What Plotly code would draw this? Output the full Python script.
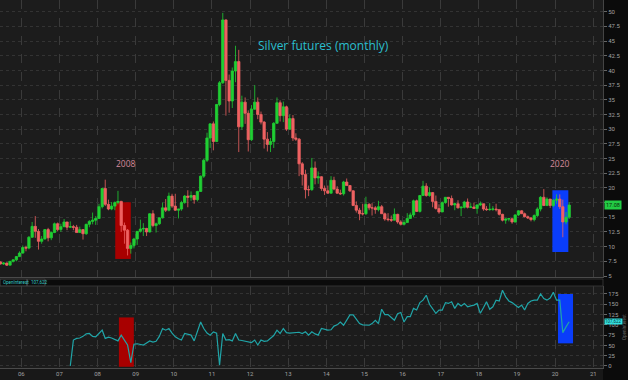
import plotly.graph_objects as go

# ---------------- data ----------------
# monthly bars, June 2005 .. May 2020 (bar centred mid-month)
MONTHS = []
for yr in range(2005, 2021):
    for mo in range(1, 13):
        if (yr == 2005 and mo < 6) or (yr == 2020 and mo > 5):
            continue
        MONTHS.append(f"{yr}-{mo:02d}-15")

OPEN = [
    7.40, 7.05, 7.20, 6.85, 7.50, 7.75, 8.30,
    8.90, 9.85, 9.75, 11.60, 13.45, 12.60, 10.90, 11.30, 12.90, 11.50, 12.40, 13.90,
    12.90, 13.40, 14.20, 13.30, 13.40, 13.30, 12.40, 12.90, 12.20, 13.80, 14.30, 14.50,
    14.80, 16.80, 19.90, 17.20, 16.40, 16.90, 17.50, 17.70, 13.60, 12.80, 9.70, 10.20,
    11.30, 12.60, 13.00, 13.10, 12.50, 15.60, 13.60, 13.90, 14.90, 16.60, 16.20, 18.60,
    16.90, 16.20, 16.40, 17.50, 18.60, 18.40, 18.70, 18.00, 19.40, 22.00, 24.70, 28.50,
    30.90, 27.90, 34.20, 37.90, 48.60, 38.30, 34.80, 39.90, 41.50, 30.40, 34.60, 32.70,
    28.20, 33.40, 34.60, 32.50, 31.20, 28.30, 27.40, 27.90, 31.00, 34.50, 32.30, 33.80,
    30.00, 31.80, 28.50, 28.30, 24.10, 22.30, 19.70, 19.70, 23.40, 21.70, 21.90, 19.90,
    19.50, 19.10, 21.30, 19.80, 19.10, 19.00, 21.00, 20.40, 19.50, 17.00, 16.20, 15.60,
    15.60, 17.20, 16.60, 16.60, 16.30, 16.80, 15.60, 14.70, 14.60, 14.50, 15.50, 14.20,
    13.80, 14.10, 14.80, 15.40, 17.80, 16.00, 18.70, 20.30, 18.70, 19.20, 17.70, 16.50,
    15.90, 17.50, 18.40, 18.20, 17.10, 17.30, 16.60, 16.70, 17.60, 16.70, 16.75, 16.50,
    17.10, 17.30, 16.40, 16.30, 16.35, 16.40, 16.30, 15.50, 14.50, 14.70, 14.75, 14.20,
    15.40, 16.10, 15.60, 15.10, 14.90, 14.60, 15.30, 16.40, 18.40, 17.00, 18.10, 17.00,
    17.90, 18.10, 16.80, 14.20, 15.00,
]
HIGH = [
    7.50, 7.35, 7.30, 7.55, 7.80, 8.40, 9.20,
    10.20, 10.15, 11.80, 14.20, 15.20, 13.00, 11.80, 13.00, 13.20, 12.60, 14.10, 14.10,
    13.90, 14.70, 14.20, 14.30, 13.70, 13.70, 13.40, 12.95, 13.90, 14.50, 15.80, 15.20,
    17.30, 20.00, 21.40, 18.00, 17.60, 17.70, 19.50, 17.80, 14.10, 13.00, 10.70, 11.50,
    12.60, 14.60, 14.00, 13.20, 15.70, 16.20, 14.10, 15.00, 17.50, 18.10, 19.20, 19.00,
    19.00, 16.40, 17.80, 18.80, 19.60, 19.40, 18.80, 19.50, 22.10, 25.00, 29.40, 31.00,
    31.30, 34.30, 38.20, 49.80, 48.70, 39.30, 40.50, 44.20, 43.50, 35.70, 35.40, 33.20,
    34.10, 37.50, 35.40, 33.00, 31.40, 29.50, 28.50, 31.20, 35.40, 34.90, 34.70, 34.00,
    32.50, 32.40, 29.30, 28.50, 24.40, 23.10, 20.40, 25.10, 24.50, 22.80, 22.00, 20.40,
    20.40, 22.00, 21.90, 20.30, 19.70, 21.20, 21.60, 20.50, 19.60, 17.70, 16.60, 17.30,
    18.50, 17.40, 17.40, 16.90, 17.80, 17.10, 15.80, 15.70, 15.30, 16.50, 15.60, 14.50,
    14.50, 15.70, 15.80, 18.00, 18.00, 18.80, 21.20, 20.80, 20.10, 19.30, 18.70, 17.20,
    17.70, 18.40, 18.40, 18.70, 17.50, 17.90, 16.90, 17.80, 18.20, 17.40, 17.50, 17.20,
    17.70, 17.30, 16.90, 17.40, 16.90, 17.30, 16.30, 15.60, 14.80, 14.90, 14.70, 15.50,
    16.20, 16.20, 15.80, 15.30, 14.90, 15.50, 16.70, 18.60, 19.80, 18.40, 18.10, 18.10,
    18.90, 18.90, 18.00, 15.90, 17.60,
]
LOW = [
    6.95, 6.90, 6.70, 6.80, 7.30, 7.50, 8.25,
    8.80, 9.20, 9.55, 11.50, 11.50, 9.50, 10.50, 11.20, 10.90, 11.10, 12.30, 12.60,
    12.50, 13.30, 12.80, 13.20, 12.80, 12.40, 12.40, 11.20, 12.00, 13.30, 13.80, 13.70,
    14.70, 16.50, 16.90, 16.20, 16.20, 16.20, 17.20, 12.50, 10.50, 8.50, 8.80, 9.70,
    10.30, 12.40, 11.80, 11.80, 12.40, 13.30, 12.40, 13.70, 14.80, 15.90, 16.00, 16.60,
    16.10, 14.80, 16.10, 17.30, 16.70, 17.80, 17.30, 17.70, 19.30, 21.70, 24.40, 26.80,
    26.40, 27.80, 33.90, 37.70, 32.30, 32.80, 33.60, 38.00, 26.10, 29.90, 30.90, 26.20,
    28.00, 33.30, 31.70, 30.80, 26.70, 26.20, 26.10, 26.80, 30.90, 31.30, 31.20, 29.70,
    29.90, 28.00, 28.00, 22.00, 20.40, 18.20, 18.60, 19.50, 20.60, 20.70, 19.50, 18.80,
    19.00, 19.00, 19.60, 19.00, 18.80, 18.70, 20.40, 19.30, 16.90, 15.80, 14.50, 15.30,
    15.40, 16.20, 15.30, 15.60, 16.00, 15.60, 14.40, 14.30, 14.20, 14.50, 13.90, 13.60,
    13.60, 14.10, 14.70, 15.00, 15.90, 15.80, 18.70, 18.50, 18.50, 16.70, 16.30, 15.60,
    15.90, 17.30, 16.80, 17.00, 16.20, 16.50, 15.20, 16.50, 16.50, 16.60, 16.60, 15.60,
    16.90, 16.10, 16.10, 16.10, 16.10, 16.00, 15.30, 14.30, 13.90, 14.30, 13.90, 14.10,
    15.20, 15.60, 15.00, 14.70, 14.30, 14.30, 15.00, 16.00, 16.90, 16.90, 16.60, 16.70,
    17.30, 16.40, 11.60, 13.80, 14.70,
]
CLOSE = [
    7.05, 7.20, 6.85, 7.50, 7.75, 8.30, 8.90,
    9.85, 9.75, 11.60, 13.45, 12.60, 10.90, 11.30, 12.90, 11.50, 12.40, 13.90, 12.90,
    13.40, 14.20, 13.30, 13.40, 13.30, 12.40, 12.90, 12.20, 13.80, 14.30, 14.50, 14.80,
    16.80, 19.90, 17.20, 16.40, 16.90, 17.50, 17.70, 13.60, 12.80, 9.70, 10.20, 11.30,
    12.60, 13.00, 13.10, 12.50, 15.60, 13.60, 13.90, 14.90, 16.60, 16.20, 18.60, 16.90,
    16.20, 16.40, 17.50, 18.60, 18.40, 18.70, 18.00, 19.40, 22.00, 24.70, 28.50, 30.90,
    27.90, 34.20, 37.90, 48.60, 38.30, 34.80, 39.90, 41.50, 30.40, 34.60, 32.70, 28.20,
    33.40, 34.60, 32.50, 31.20, 28.30, 27.40, 27.90, 31.00, 34.50, 32.30, 33.80, 30.00,
    31.80, 28.50, 28.30, 24.10, 22.30, 19.70, 19.70, 23.40, 21.70, 21.90, 19.90, 19.50,
    19.10, 21.30, 19.80, 19.10, 19.00, 21.00, 20.40, 19.50, 17.00, 16.20, 15.60, 15.60,
    17.20, 16.60, 16.60, 16.30, 16.80, 15.60, 14.70, 14.60, 14.50, 15.50, 14.20, 13.80,
    14.10, 14.80, 15.40, 17.80, 16.00, 18.70, 20.30, 18.70, 19.20, 17.70, 16.50, 15.90,
    17.50, 18.40, 18.20, 17.10, 17.30, 16.60, 16.70, 17.60, 16.70, 16.75, 16.50, 17.10,
    17.30, 16.40, 16.30, 16.35, 16.40, 16.30, 15.50, 14.50, 14.70, 14.75, 14.20, 15.40,
    16.10, 15.60, 15.10, 14.90, 14.60, 15.30, 16.40, 18.40, 17.00, 18.10, 17.00, 17.90,
    18.10, 16.80, 14.20, 15.00, 17.08,
]

# open interest (thousands), April 2007 .. May 2020
OI_MONTHS = MONTHS[22:]
OPEN_INTEREST = [
    0, 63, 67, 68, 72, 78, 79, 72, 71,
    80, 87, 67, 70, 68, 65, 61, 75, 62, 51, 8, 53,
    54, 52, 51, 56, 61, 58, 60, 72, 91, 87, 91, 80,
    71, 66, 63, 79, 77, 75, 61, 85, 107, 91, 80, 75,
    83, 80, 2, 79, 63, 64, 61, 79, 63, 62, 60, 59,
    57, 63, 51, 63, 60, 61, 67, 74, 87, 79, 91, 81,
    80, 81, 81, 82, 79, 83, 75, 83, 78, 75, 91, 89,
    87, 88, 97, 100, 107, 99, 110, 124, 124, 115, 103, 100,
    99, 99, 103, 111, 103, 138, 125, 125, 118, 111, 127, 130,
    107, 120, 120, 140, 136, 154, 160, 172, 150, 140, 128, 136,
    136, 154, 152, 156, 140, 152, 146, 152, 144, 146, 148, 152,
    128, 142, 156, 138, 144, 160, 158, 184, 168, 158, 154, 148,
    142, 148, 136, 152, 158, 160, 160, 175, 164, 160, 165, 179,
    160, 160, 81, 95, 107.622,
]

PRICE_TICKS = [5, 7.5, 10, 12.5, 15, 17.5, 20, 22.5, 25, 27.5, 30, 32.5, 35, 37.5, 40, 42.5, 45, 47.5, 50]
# the 17.5 label sits under the last-price tag in the reference
PRICE_LABELS = ["5", "7.5", "10", "12.5", "15", "", "20", "22.5", "25", "27.5", "30",
                "32.5", "35", "37.5", "40", "42.5", "45", "47.5", "50"]
OI_TICKS = [0, 25, 50, 75, 100, 125, 150, 175]
OI_LABELS = ["0", "25", "50", "75", "100", "125", "150", "175"]

TITLE = "Silver futures (monthly)"
LAST_PRICE = "17.08"
LAST_OI = "107,622"

# ---------------- styling ----------------
UP = "#20cf33"
DOWN = "#ef6262"
OI_COLOR = "#20a5a8"
GRID = "#3a3a3a"
TICKFONT = dict(size=6, color="#a0a0a0", family="Roboto")
X_RANGE = ["2005-06-11", "2021-04-04"]
H = 368.0  # plot-area height in px

fig = go.Figure()
fig.add_trace(go.Candlestick(
    x=MONTHS, open=OPEN, high=HIGH, low=LOW, close=CLOSE,
    increasing=dict(line=dict(color=UP, width=0.8), fillcolor=UP),
    decreasing=dict(line=dict(color=DOWN, width=0.8), fillcolor=DOWN),
    whiskerwidth=0, xaxis="x", yaxis="y", showlegend=False, hoverinfo="skip",
))
fig.add_trace(go.Scatter(
    x=OI_MONTHS, y=OPEN_INTEREST, mode="lines",
    line=dict(color=OI_COLOR, width=1.2),
    xaxis="x2", yaxis="y2", showlegend=False, hoverinfo="skip",
))

shapes = [
    # bottom strip behind year labels
    dict(type="rect", xref="paper", yref="paper", x0=0, x1=1, y0=-12 / H, y1=0,
         fillcolor="#181818", line=dict(width=0), layer="below"),
    # header boxes
    dict(type="rect", xref="paper", yref="paper", x0=0, x1=27 / 603, y0=(H - 286) / H, y1=(H - 279) / H,
         line=dict(color="#444444", width=1)),
    dict(type="rect", xref="paper", yref="paper", x0=27 / 603, x1=45 / 603, y0=(H - 286) / H, y1=(H - 279) / H,
         line=dict(color="#444444", width=1)),
    dict(type="rect", xref="paper", yref="paper", x0=45 / 603, x1=1, y0=(H - 286) / H, y1=(H - 279) / H,
         line=dict(color="#333333", width=1)),
    # highlight boxes
    dict(type="rect", xref="x", yref="y", x0="2008-06-19", x1="2008-11-15", y0=7.9, y1=17.56,
         fillcolor="#a80000", line=dict(width=0), layer="between"),
    dict(type="rect", xref="x2", yref="y2", x0="2008-07-24", x1="2008-12-14", y0=-2, y1=118,
         fillcolor="#a80000", line=dict(width=0), layer="between"),
    dict(type="rect", xref="x", yref="y", x0="2019-12-06", x1="2020-05-07", y0=9.1, y1=19.6,
         fillcolor="#0a3dfa", line=dict(width=0), layer="between"),
    dict(type="rect", xref="x2", yref="y2", x0="2020-01-29", x1="2020-06-21", y0=55, y1=175,
         fillcolor="#0a3dfa", line=dict(width=0), layer="between"),
]

CENTER = dict(xanchor="center", yanchor="middle", showarrow=False)
annotations = [
    dict(text=TITLE, xref="paper", yref="paper", x=323 / 603, y=(H - 45) / H,
         font=dict(size=12, color="#2bbfcf", family="Open Sans"), **CENTER),
    dict(text="2008", xref="paper", yref="paper", x=126 / 603, y=(H - 163) / H,
         font=dict(size=8.5, color="#d4899a", family="Open Sans"), **CENTER),
    dict(text="2020", xref="paper", yref="paper", x=560 / 603, y=(H - 163) / H,
         font=dict(size=8.5, color="#d4899a", family="Open Sans"), **CENTER),
    dict(text=LAST_PRICE, xref="paper", yref="y", x=1, y=17.08, xanchor="left", yanchor="middle",
         xshift=1, showarrow=False, bgcolor="#22cc44", borderpad=1,
         font=dict(size=5.5, color="#0a2a0a", family="Roboto")),
    dict(text=LAST_OI, xref="paper", yref="y2", x=1, y=107.622, xanchor="left", yanchor="middle",
         xshift=1, showarrow=False, bgcolor="#33e0e0", borderpad=0,
         font=dict(size=4.5, color="#0a3a3a", family="Roboto")),
    dict(text="OpenInterest", xref="paper", yref="paper", x=1 / 603, y=(H - 282.5) / H,
         xanchor="left", yanchor="middle", showarrow=False,
         font=dict(size=4.5, color="#33c8c8", family="Roboto")),
    dict(text=LAST_OI, xref="paper", yref="paper", x=29 / 603, y=(H - 282.5) / H,
         xanchor="left", yanchor="middle", showarrow=False,
         font=dict(size=4.5, color="#33c8c8", family="Roboto")),
    dict(text="OpenInterest", xref="paper", yref="paper", x=624 / 603, y=(H - 327) / H,
         textangle=-90, font=dict(size=4.5, color="#666666", family="Roboto"), **CENTER),
]

fig.update_layout(
    width=628, height=380,
    margin=dict(l=0, r=25, t=0, b=12),
    paper_bgcolor="#0b0b0b", plot_bgcolor="#1c1c1c",
    showlegend=False, boxgap=0.2, boxgroupgap=0,
    shapes=shapes, annotations=annotations,
    xaxis=dict(domain=[0, 1], anchor="y", type="date", range=X_RANGE,
               rangeslider=dict(visible=False), showticklabels=False,
               dtick="M12", tick0="2006-01-01", showgrid=True, gridcolor=GRID,
               griddash="dash", gridwidth=1, ticks="", showline=True,
               linecolor="#4a4a4a", zeroline=False),
    yaxis=dict(domain=[(H - 277) / H, 1], anchor="x", side="right", range=[4.83, 51.99],
               tickmode="array", tickvals=PRICE_TICKS, ticktext=PRICE_LABELS,
               showgrid=True, gridcolor="#333333", griddash="dot", ticks="outside",
               ticklen=3, tickcolor="#666666", tickfont=TICKFONT, showline=True,
               linecolor="#444444", zeroline=False),
    xaxis2=dict(domain=[0, 1], anchor="y2", type="date", range=X_RANGE,
                tickformat="%y", dtick="M12", tick0="2006-01-01", showgrid=True,
                gridcolor=GRID, griddash="dash", ticks="", tickfont=TICKFONT,
                showline=True, linecolor="#4a4a4a", zeroline=False),
    yaxis2=dict(domain=[0, (H - 286) / H], anchor="x2", side="right", range=[-4.9, 194.4],
                tickmode="array", tickvals=OI_TICKS, ticktext=OI_LABELS,
                showgrid=True, gridcolor="#333333", griddash="dot", ticks="outside",
                ticklen=3, tickcolor="#666666", tickfont=TICKFONT, showline=True,
                linecolor="#444444", zeroline=False),
)

fig.write_html(
    "out.html",
    config={"displayModeBar": False},
    post_script="document.body.style.margin='0';document.body.style.background='#0b0b0b';",
)
